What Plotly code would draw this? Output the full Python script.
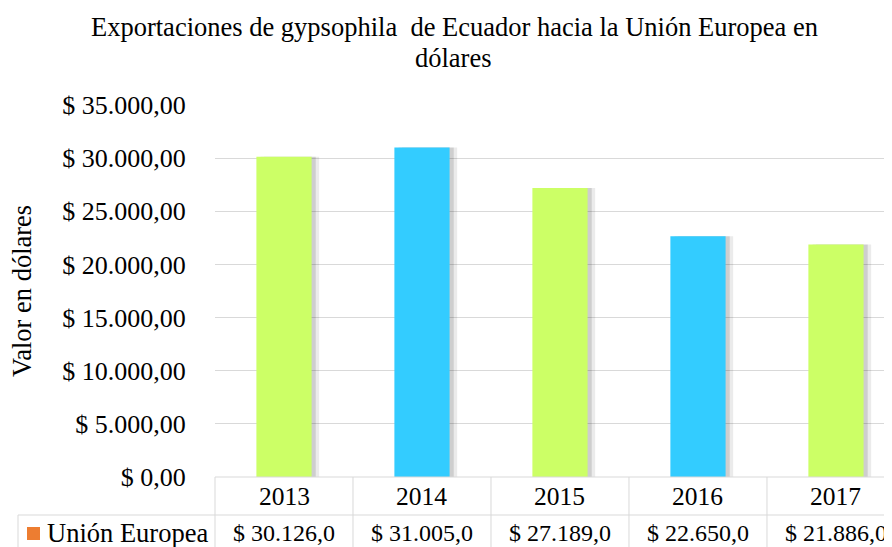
import plotly.graph_objects as go

# ---- data ----
years = ["2013", "2014", "2015", "2016", "2017"]
values = [30126.0, 31005.0, 27189.0, 22650.0, 21886.0]
bar_colors = ["#CCFF66", "#33CCFF", "#CCFF66", "#33CCFF", "#CCFF66"]
series_name = "Unión Europea"
y_tickvals = [0, 5000, 10000, 15000, 20000, 25000, 30000, 35000]
y_ticktext = ["$ 0,00", "$ 5.000,00", "$ 10.000,00", "$ 15.000,00",
              "$ 20.000,00", "$ 25.000,00", "$ 30.000,00", "$ 35.000,00"]
title_line1 = "Exportaciones de gypsophila  de Ecuador hacia la Unión Europea en"
title_line2 = "dólares"
y_title = "Valor en dólares"


def fmt_money(v):
    s = f"{v:,.1f}"  # 30,126.0
    s = s.replace(",", "X").replace(".", ",").replace("X", ".")
    return "$ " + s


value_labels = [fmt_money(v) for v in values]

FONT = "Liberation Serif, Times New Roman, serif"
OFF = 8  # default page body margin
W, H = 892 - OFF, 547 - OFF
# plot area in window pixels: x 215..892, y 105..477
ML, MR, MT, MB = 215 - OFF, 0, 105 - OFF, 547 - 477
x_pos = list(range(len(years)))
x_lo = -0.5
x_hi = len(years) - 0.5 - 0.094  # right column partly cut off, as in the reference
plot_w = W - ML - MR
plot_h = H - MT - MB

def xp(xdata):
    return (xdata - x_lo) / (x_hi - x_lo)

def yp(px):  # window pixel y -> paper y
    return (477 - px) / plot_h

def xpp(px):  # window pixel x -> paper x
    return (px - 215) / plot_w

fig = go.Figure()

# shadow
fig.add_trace(go.Bar(x=x_pos, y=values, width=0.4, offset=-0.2 + 0.055,
                     marker=dict(color="rgba(0,0,0,0.08)", line=dict(width=0)),
                     hoverinfo="skip", showlegend=False))
fig.add_trace(go.Bar(x=x_pos, y=values, width=0.4, offset=-0.2 + 0.03,
                     marker=dict(color="rgba(0,0,0,0.12)", line=dict(width=0)),
                     hoverinfo="skip", showlegend=False))
fig.add_trace(go.Bar(x=x_pos, y=values, width=0.4, offset=-0.2,
                     marker=dict(color=bar_colors, line=dict(width=0)),
                     name=series_name, showlegend=False))

grid_col = "#D9D9D9"
shapes = []
# table lines
row1_bot = yp(515)
row2_bot = yp(560)
left_px = 18
shapes.append(dict(type="line", xref="paper", yref="paper", x0=0, x1=1, y0=0, y1=0,
                   line=dict(color=grid_col, width=1)))
shapes.append(dict(type="line", xref="paper", yref="paper", x0=xpp(left_px), x1=1,
                   y0=row1_bot, y1=row1_bot, line=dict(color=grid_col, width=1)))
for k in range(len(years)):
    bx = xp(x_lo + k)
    shapes.append(dict(type="line", xref="paper", yref="paper", x0=bx, x1=bx,
                       y0=0, y1=row2_bot, line=dict(color=grid_col, width=1)))
shapes.append(dict(type="line", xref="paper", yref="paper", x0=xpp(left_px), x1=xpp(left_px),
                   y0=row1_bot, y1=row2_bot, line=dict(color=grid_col, width=1)))
# legend key
shapes.append(dict(type="rect", xref="paper", yref="paper",
                   x0=xpp(27), x1=xpp(40), y0=yp(540), y1=yp(527),
                   fillcolor="#ED7D31", line=dict(width=0)))

BLACK = "#000000"
annotations = []
for i, (yr, lab) in enumerate(zip(years, value_labels)):
    annotations.append(dict(x=x_pos[i], y=yp(496), xref="x", yref="paper", text=yr,
                            showarrow=False, xanchor="center", yanchor="middle",
                            font=dict(family=FONT, size=25.5, color=BLACK)))
    annotations.append(dict(x=x_pos[i], y=yp(533), xref="x", yref="paper", text=lab,
                            showarrow=False, xanchor="center", yanchor="middle",
                            font=dict(family=FONT, size=24, color=BLACK)))
annotations.append(dict(x=xpp(45), y=yp(533), xref="paper", yref="paper", text=series_name,
                        showarrow=False, xanchor="left", yanchor="middle",
                        font=dict(family=FONT, size=26.5, color=BLACK)))
annotations.append(dict(x=xpp(22), y=yp(291), xref="paper", yref="paper", text=y_title,
                        textangle=-90, showarrow=False, xanchor="center", yanchor="middle",
                        font=dict(family=FONT, size=26.5, color=BLACK)))
annotations.append(dict(x=xpp(454), y=yp(27), xref="paper", yref="paper", text=title_line1,
                        showarrow=False, xanchor="center", yanchor="middle",
                        font=dict(family=FONT, size=26.5, color=BLACK)))
annotations.append(dict(x=xpp(453), y=yp(58), xref="paper", yref="paper", text=title_line2,
                        showarrow=False, xanchor="center", yanchor="middle",
                        font=dict(family=FONT, size=26.5, color=BLACK)))

fig.update_layout(
    width=W, height=H,
    margin=dict(l=ML, r=MR, t=MT, b=MB),
    paper_bgcolor="white", plot_bgcolor="white",
    barmode="overlay",
    showlegend=False,
    shapes=shapes,
    annotations=annotations,
    xaxis=dict(range=[x_lo, x_hi], showticklabels=False, showgrid=False,
               zeroline=False, showline=False, ticks="", fixedrange=True),
    yaxis=dict(range=[0, 35000], tickvals=y_tickvals, ticktext=y_ticktext,
               showgrid=True, gridcolor=grid_col, gridwidth=1, zeroline=False,
               showline=False, ticks="outside", ticklen=23, tickcolor="rgba(0,0,0,0)",
               tickfont=dict(family=FONT, size=26, color=BLACK), fixedrange=True),
)

fig.write_html("out.html")
